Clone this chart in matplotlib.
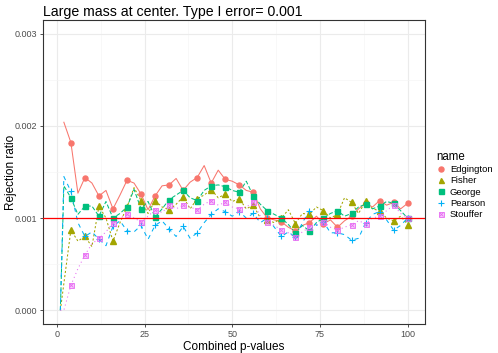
import numpy as np
import matplotlib
matplotlib.use("Agg")
import matplotlib.pyplot as plt
from matplotlib.lines import Line2D

nan = np.nan
x = [1] + list(range(2, 101, 2))

edgington = [nan, 2.04, 1.82, 1.27, 1.44, 1.38, 1.24, 1.30, 1.10, 1.25, 1.41, 1.38, 1.26, 1.09, 1.24, 1.35,
             1.36, 1.43, 1.30, 1.39, 1.44, 1.57, 1.38, 1.52, 1.42, 1.40, 1.36, 1.30, 1.28, 1.10, 1.00,
             0.98, 0.96, 0.90, 0.86, 0.92, 0.95, 1.02, 0.94, 0.98, 0.90, 0.97, 1.02, 1.10, 1.16, 1.12,
             1.19, 1.14, 1.17, 1.10, 1.16]
fisher = [0, 0.29, 0.87, 0.75, 0.80, 0.69, 1.13, 1.00, 0.75, 0.95, 1.12, 1.33, 1.19, 1.05, 1.19, 1.12,
          1.09, 1.15, 1.23, 1.10, 1.21, 1.25, 1.31, 1.22, 1.26, 1.18, 1.21, 1.10, 1.14, 1.00, 0.98,
          0.95, 1.00, 1.09, 0.94, 1.05, 1.04, 1.12, 1.08, 1.00, 1.04, 1.22, 1.17, 1.05, 1.18, 1.10,
          1.08, 1.00, 0.97, 1.02, 0.93]
george = [0, 1.35, 1.22, 1.04, 1.13, 1.13, 1.02, 1.18, 1.00, 1.05, 1.12, 1.31, 1.10, 1.18, 1.01, 1.10,
          1.20, 1.25, 1.30, 1.22, 1.19, 1.30, 1.35, 1.36, 1.34, 1.30, 1.28, 1.40, 1.24, 1.15, 1.08,
          1.04, 1.00, 0.93, 0.84, 0.92, 0.86, 0.95, 1.00, 1.05, 1.08, 1.02, 1.05, 1.12, 1.15, 1.10,
          1.13, 1.18, 1.16, 1.08, 1.00]
pearson = [0, 1.45, 1.29, 0.95, 0.80, 0.85, 0.77, 0.70, 0.91, 0.97, 0.86, 0.85, 0.92, 0.77, 0.92, 0.97,
           0.88, 0.80, 0.91, 0.78, 0.84, 0.95, 1.04, 1.10, 1.07, 1.02, 1.07, 1.00, 1.05, 0.95, 1.00,
           0.90, 0.80, 0.85, 0.79, 0.95, 1.08, 0.92, 0.96, 0.84, 0.84, 0.82, 0.76, 0.78, 0.95, 1.04,
           1.07, 0.98, 0.87, 0.92, 1.00]
stouffer = [0, 0, 0.27, 0.45, 0.60, 0.72, 0.78, 0.85, 0.95, 1.00, 1.04, 1.00, 0.96, 1.02, 1.09, 1.06,
            1.14, 1.10, 1.14, 1.12, 1.09, 1.15, 1.19, 1.14, 1.17, 1.12, 1.10, 1.12, 1.17, 1.02, 0.96,
            0.92, 0.87, 0.84, 0.79, 0.85, 0.90, 0.93, 0.96, 0.90, 0.87, 0.90, 0.93, 0.97, 0.94, 1.00,
            1.02, 1.08, 1.14, 1.05, 1.00]

names = ["Edgington", "Fisher", "George", "Pearson", "Stouffer"]
series = [edgington, fisher, george, pearson, stouffer]
colors = ["#F8766D", "#A3A500", "#00BF7D", "#00B0F6", "#E76BF3"]
dashes = [None, (2, 2), (4, 2), (4, 4), (1, 3)]
markers = ["o", "^", "s", "+", "s"]
type1 = 0.001

plt.rcParams['font.family'] = ['Liberation Sans', 'DejaVu Sans']
fig = plt.figure(figsize=(4.98, 3.53), dpi=100)
ax = fig.add_axes([43/498, 1-324/353, (425-43)/498, (324-20)/353])

xa = np.array(x, dtype=float)
mask = (xa % 4 == 0)


def draw_marker(axis, xs, ys, name, c, m):
    if name == "Stouffer":
        axis.plot(xs, ys, ls='none', marker='s', ms=3.6, mfc=c + '55', mec=c, mew=0.6, zorder=4)
        axis.plot(xs, ys, ls='none', marker='x', ms=3.0, mec=c, mew=0.6, zorder=4)
    elif name == "Pearson":
        axis.plot(xs, ys, ls='none', marker='+', ms=5.0, mec=c, mew=0.8, zorder=4)
    else:
        ms = 4.0 if m == '^' else 3.6
        axis.plot(xs, ys, ls='none', marker=m, ms=ms, color=c, mec=c, zorder=4)


for name, vals, c, d, m in zip(names, series, colors, dashes, markers):
    v = np.array(vals, dtype=float) * 1e-3
    ln, = ax.plot(xa, v, color=c, lw=0.75, zorder=3)
    if d is not None:
        ln.set_dashes(d)
    draw_marker(ax, xa[mask], v[mask], name, c, m)

ax.axhline(type1, color='red', lw=0.9, zorder=5)

ax.set_xlim(-3.95, 104.95)
ax.set_ylim(-0.00015, 0.00315)
ax.set_xticks([0, 25, 50, 75, 100])
ax.set_xticks([12.5, 37.5, 62.5, 87.5], minor=True)
ax.set_yticks([0, 0.001, 0.002, 0.003])
ax.set_yticklabels(["0.000", "0.001", "0.002", "0.003"])
ax.set_yticks([0.0005, 0.0015, 0.0025], minor=True)
ax.grid(which='major', color='#EBEBEB', lw=0.8, zorder=0)
ax.grid(which='minor', color='#F5F5F5', lw=0.5, zorder=0)
ax.set_axisbelow(True)
for s in ax.spines.values():
    s.set_color('#333333')
    s.set_linewidth(0.8)
ax.tick_params(which='major', length=2.5, width=0.6, color='#333333', labelsize=6.5,
               labelcolor='#4D4D4D', pad=1.5)
ax.tick_params(which='minor', length=0)

ax.set_xlabel("Combined p-values", fontsize=8.5, labelpad=2)
ax.set_ylabel("Rejection ratio", fontsize=8.5)
ax.yaxis.set_label_coords(-0.068, 0.5)
fig.text(43/498, 1-12/353, "Large mass at center. Type I error= 0.001", fontsize=10.2,
         ha='left', va='center')

handles = []
for name, c, m in zip(names, colors, markers):
    if name == "Stouffer":
        h = (Line2D([], [], ls='none', marker='s', ms=3.6, mfc=c + '55', mec=c, mew=0.6),
             Line2D([], [], ls='none', marker='x', ms=3.0, mec=c, mew=0.6))
    elif name == "Pearson":
        h = Line2D([], [], ls='none', marker='+', ms=5.0, mec=c, mew=0.8)
    else:
        h = Line2D([], [], ls='none', marker=m, ms=3.6, color=c)
    handles.append(h)
leg = fig.legend(handles, names, title="name", loc='upper left',
                 bbox_to_anchor=(430/498, 1-144/353), frameon=False, fontsize=6.8,
                 title_fontsize=8.3, handlelength=1.0, handletextpad=0.4, labelspacing=0.25,
                 borderpad=0.2)
leg._legend_box.align = "left"

fig.savefig("out.png", dpi=100)
